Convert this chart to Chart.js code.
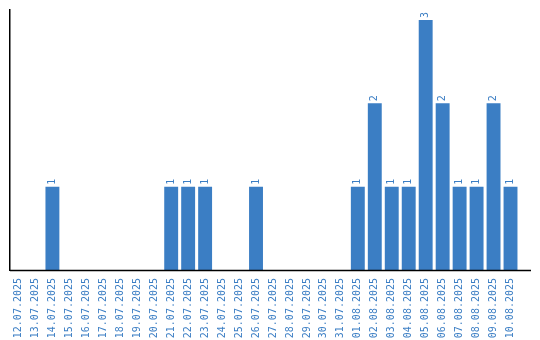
<!DOCTYPE html>
<html>
<head>
<meta charset="utf-8">
<script src="https://cdn.jsdelivr.net/npm/chart.js@4/dist/chart.umd.min.js"></script>
<style>
  html, body { margin: 0; padding: 0; background: #fff; }
  #wrap { width: 540px; height: 340px; }
</style>
</head>
<body>
<div id="wrap"><canvas id="c" width="540" height="340"></canvas></div>
<script>
const dates = ['12.07.2025','13.07.2025','14.07.2025','15.07.2025','16.07.2025','17.07.2025',
  '18.07.2025','19.07.2025','20.07.2025','21.07.2025','22.07.2025','23.07.2025','24.07.2025',
  '25.07.2025','26.07.2025','27.07.2025','28.07.2025','29.07.2025','30.07.2025','31.07.2025',
  '01.08.2025','02.08.2025','03.08.2025','04.08.2025','05.08.2025','06.08.2025','07.08.2025',
  '08.08.2025','09.08.2025','10.08.2025'];
const counts = [0,0,1,0,0,0,0,0,0,1,1,1,0,0,1,0,0,0,0,0,1,2,1,1,3,2,1,1,2,1];

const blue = '#3b7ec4';

// value labels above bars, rotated like the axis labels
const valueLabels = {
  id: 'valueLabels',
  afterDatasetsDraw(chart) {
    const ctx = chart.ctx;
    const meta = chart.getDatasetMeta(0);
    ctx.save();
    ctx.fillStyle = blue;
    ctx.font = '10px "DejaVu Sans Mono"';
    ctx.textAlign = 'left';
    ctx.textBaseline = 'middle';
    meta.data.forEach((bar, i) => {
      if (!counts[i]) return;
      ctx.save();
      ctx.translate(bar.x, bar.y - 2);
      ctx.rotate(-Math.PI / 2);
      ctx.fillText(String(counts[i]), 0, 0);
      ctx.restore();
    });
    // x axis line runs a bit past the last category
    const a = chart.chartArea;
    ctx.strokeStyle = '#000';
    ctx.lineWidth = 1.5;
    ctx.beginPath();
    ctx.moveTo(a.left, a.bottom + 0.5);
    ctx.lineTo(a.right + 12, a.bottom + 0.5);
    ctx.stroke();
    ctx.restore();
  }
};

new Chart(document.getElementById('c'), {
  type: 'bar',
  data: {
    labels: dates,
    datasets: [{
      data: counts,
      backgroundColor: blue,
      borderWidth: 0,
      barPercentage: 0.82,
      categoryPercentage: 1
    }]
  },
  options: {
    responsive: false,
    animation: false,
    layout: { padding: { left: 9, top: 10, right: 21, bottom: 0 } },
    plugins: { legend: { display: false }, tooltip: { enabled: false } },
    scales: {
      x: {
        grid: { display: false },
        border: { display: false },
        afterFit(s) { s.height = 70; },
        ticks: {
          color: blue,
          font: { family: '"DejaVu Sans Mono"', size: 10 },
          padding: 0,
          minRotation: 90,
          maxRotation: 90,
          autoSkip: false
        }
      },
      y: {
        min: 0,
        max: 3.12,
        grid: { display: false },
        border: { color: '#000', width: 1.5 },
        afterFit(s) { s.width = 1; },
        ticks: { display: false }
      }
    }
  },
  plugins: [valueLabels]
});
</script>
</body>
</html>
